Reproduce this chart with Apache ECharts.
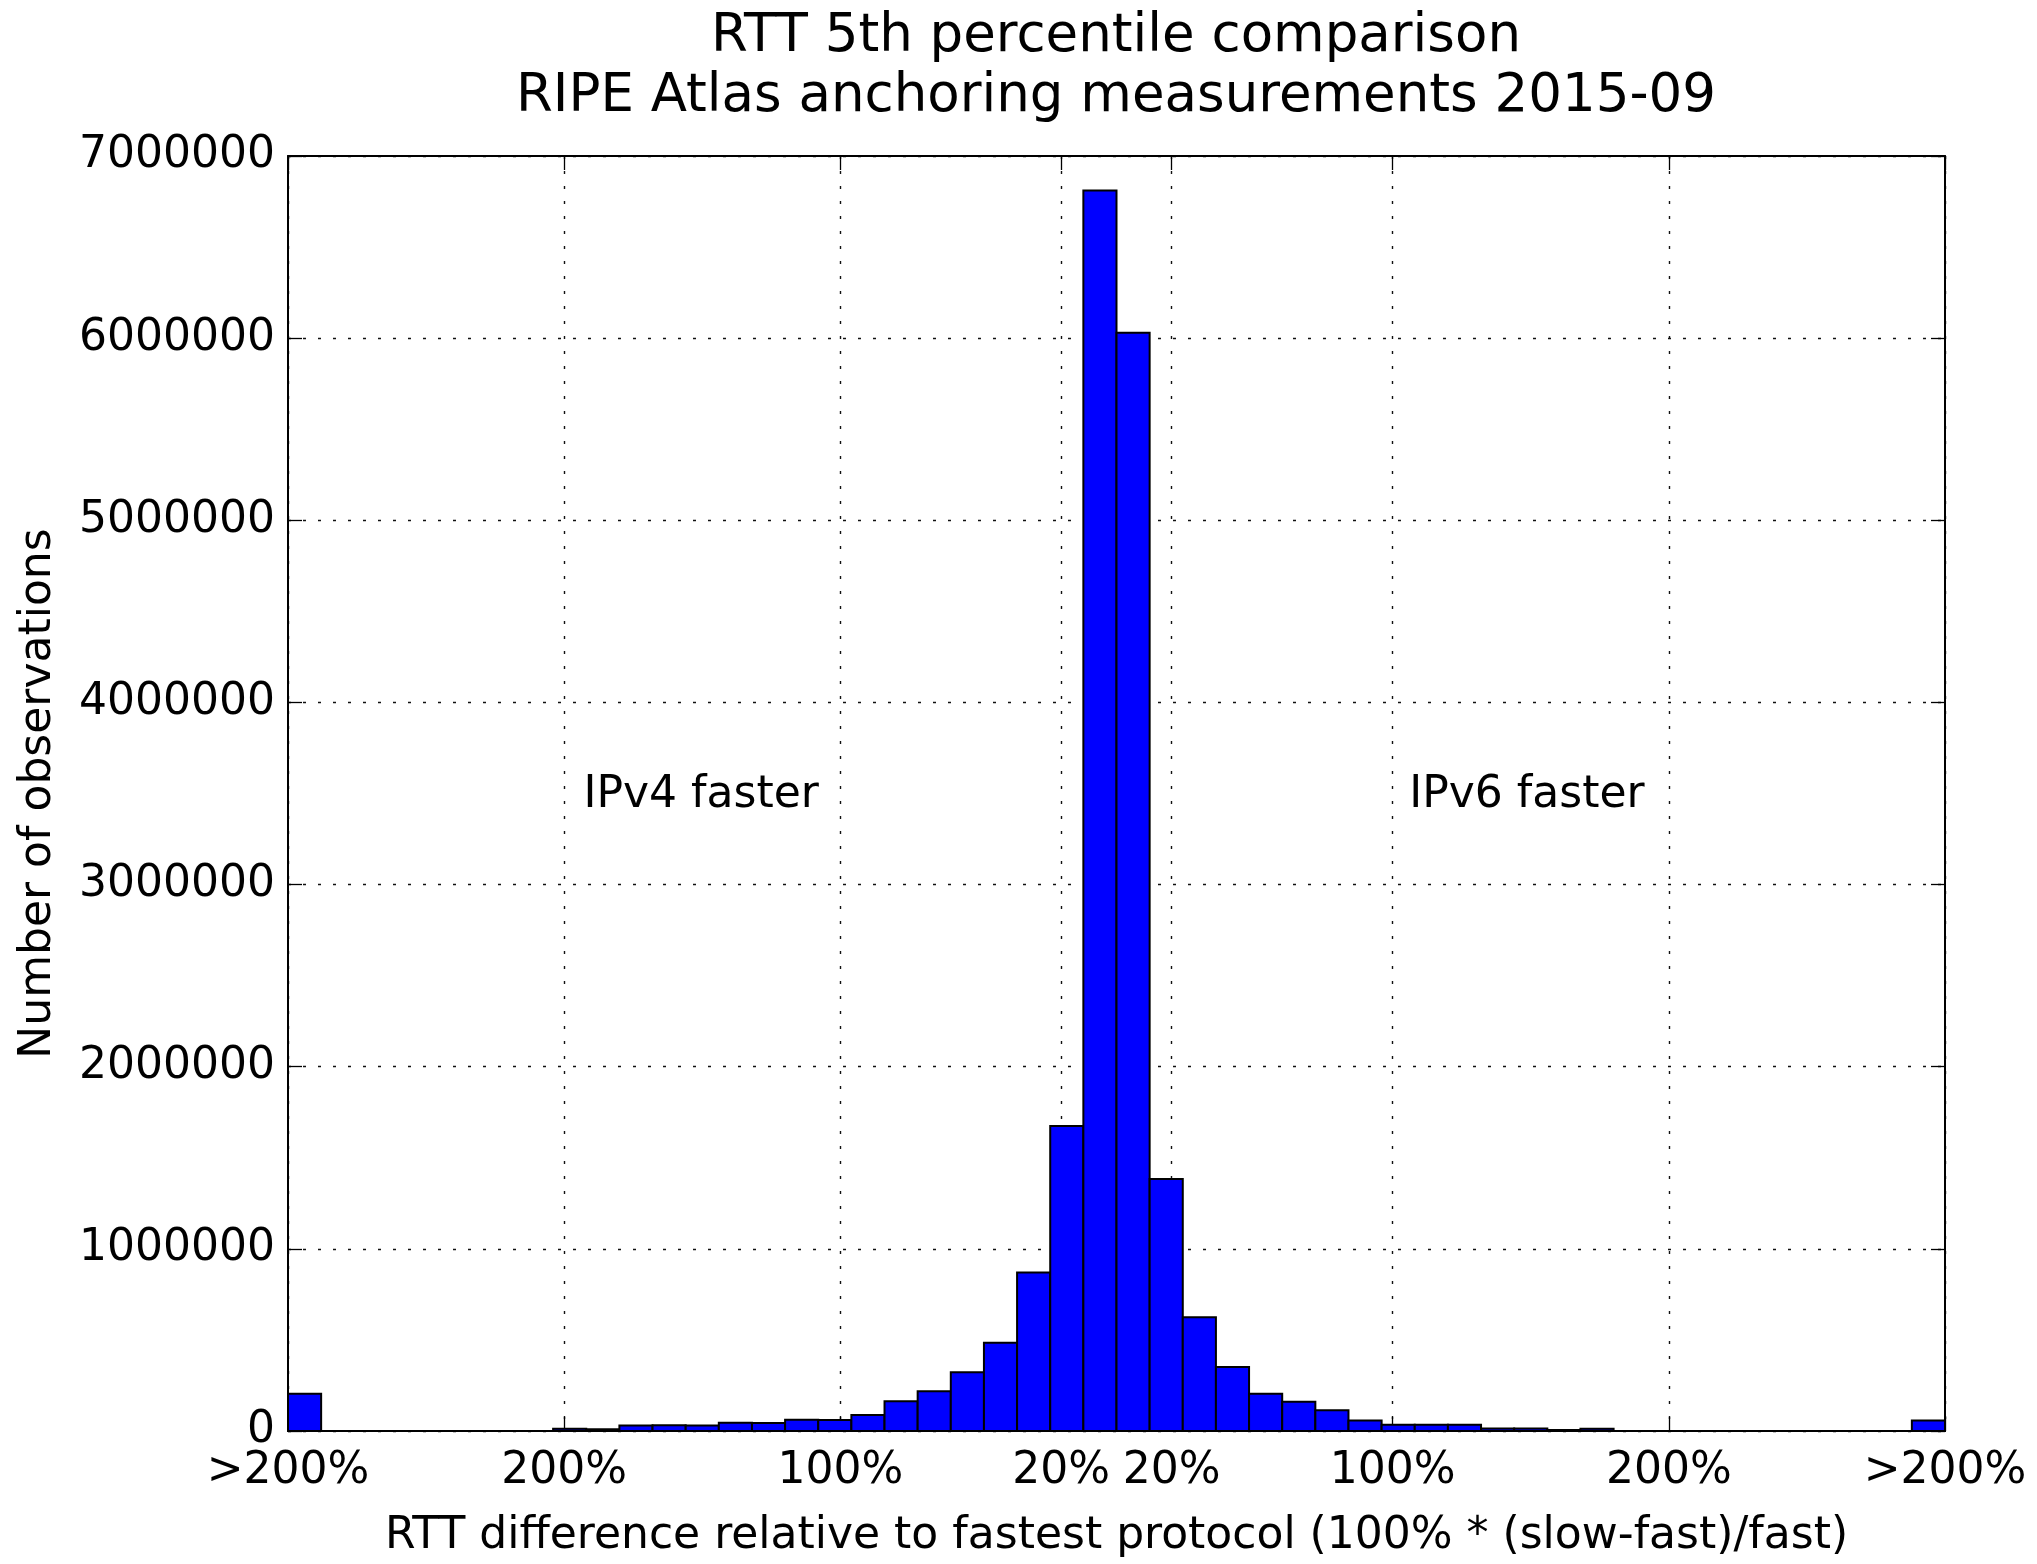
<!DOCTYPE html>
<html>
<head>
<meta charset="utf-8">
<script src="https://cdn.jsdelivr.net/npm/echarts@6/dist/echarts.min.js"></script>
<style>
html, body { margin: 0; padding: 0; background: #fff; }
#chart { width: 2037px; height: 1564px; }
</style>
</head>
<body>
<div id="chart"></div>
<script>
// histogram bins (x = RTT difference in %, negative side = IPv4 faster)
var binEdges = [-300, -288, -276, -264, -252, -240, -228, -216, -204, -192,
    -180, -168, -156, -144, -132, -120, -108, -96, -84, -72,
    -60, -48, -36, -24, -12, 0, 12, 24, 36, 48,
    60, 72, 84, 96, 108, 120, 132, 144, 156, 168,
    180, 192, 204, 216, 228, 240, 252, 264, 276, 288, 300];
var counts = [205000, 0, 0, 0, 0, 0, 0, 0, 12000, 10000,
    30000, 31000, 30000, 45000, 44000, 62000, 60000, 88000, 163000, 218000,
    322000, 484000, 870000, 1675000, 6810000, 6030000, 1383000, 625000, 352000, 205000,
    160000, 114000, 58000, 35000, 35000, 35000, 14000, 14000, 5000, 12000,
    0, 0, 0, 0, 0, 0, 0, 0, 0, 58000];

var tickValues = [-300, -200, -100, -20, 20, 100, 200, 300];
var tickLabels = ['>200%', '200%', '100%', '20%', '20%', '100%', '200%', '>200%'];

var notes = ['IPv4 faster', 'IPv6 faster'];
var notesX = [-193, 106];
var notesY = [3490000, 3490000];

var font = 'DejaVu Sans';

var histData = [];
for (var i = 0; i < counts.length; i++) {
    histData.push([binEdges[i], binEdges[i + 1], counts[i]]);
}
var noteData = [];
for (var j = 0; j < notes.length; j++) {
    noteData.push({ value: [notesX[j], notesY[j]], name: notes[j] });
}

var myChart = echarts.init(document.getElementById('chart'));

var gridDash = { color: '#111', width: 1.4, type: [3, 12] };
var frame = { show: true, onZero: false, lineStyle: { color: '#000', width: 2 } };
var tickIn = { show: true, inside: true, length: 14, lineStyle: { color: '#000', width: 1.3 } };

var option = {
    animation: false,
    backgroundColor: '#fff',
    title: {
        text: 'RTT 5th percentile comparison\nRIPE Atlas anchoring measurements 2015-09',
        left: 1116,
        top: 7,
        padding: 0,
        textAlign: 'center',
        textStyle: {
            fontFamily: font,
            fontSize: 53,
            fontWeight: 'normal',
            color: '#000',
            lineHeight: 60
        }
    },
    grid: {
        left: 288,
        right: 92,
        top: 156,
        bottom: 123,
        containLabel: false
    },
    xAxis: [
        {
            type: 'value',
            position: 'bottom',
            min: -300,
            max: 300,
            name: 'RTT difference relative to fastest protocol (100% * (slow-fast)/fast)',
            nameLocation: 'middle',
            nameGap: 84,
            nameTextStyle: { fontFamily: font, fontSize: 44, color: '#000' },
            axisLine: frame,
            axisTick: { show: true, inside: true, length: 14, customValues: tickValues, lineStyle: { color: '#000', width: 1.3 } },
            axisLabel: {
                customValues: tickValues,
                margin: 19,
                fontFamily: font,
                fontSize: 44,
                color: '#000',
                showMinLabel: true,
                showMaxLabel: true,
                formatter: function (v) {
                    var k = tickValues.indexOf(v);
                    return k >= 0 ? tickLabels[k] : '';
                }
            },
            splitLine: { show: true, lineStyle: gridDash }
        },
        {
            type: 'value',
            position: 'top',
            min: -300,
            max: 300,
            axisLine: frame,
            axisTick: { show: true, inside: true, length: 14, customValues: tickValues, lineStyle: { color: '#000', width: 1.3 } },
            axisLabel: { show: false },
            splitLine: { show: false }
        }
    ],
    yAxis: [
        {
            type: 'value',
            position: 'left',
            min: 0,
            max: 7000000,
            interval: 1000000,
            name: 'Number of observations',
            nameLocation: 'middle',
            nameGap: 227,
            nameTextStyle: { fontFamily: font, fontSize: 44, color: '#000' },
            axisLine: frame,
            axisTick: tickIn,
            axisLabel: {
                margin: 13,
                fontFamily: font,
                fontSize: 44,
                color: '#000',
                formatter: function (v) { return String(v); }
            },
            splitLine: { show: true, lineStyle: gridDash }
        },
        {
            type: 'value',
            position: 'right',
            min: 0,
            max: 7000000,
            interval: 1000000,
            axisLine: frame,
            axisTick: tickIn,
            axisLabel: { show: false },
            splitLine: { show: false }
        }
    ],
    series: [
        {
            type: 'custom',
            xAxisIndex: 0,
            yAxisIndex: 0,
            encode: { x: [0, 1], y: 2 },
            data: histData,
            renderItem: function (params, api) {
                var p0 = api.coord([api.value(0), api.value(2)]);
                var p1 = api.coord([api.value(1), 0]);
                return {
                    type: 'rect',
                    shape: { x: p0[0], y: p0[1], width: p1[0] - p0[0], height: p1[1] - p0[1] },
                    style: { fill: '#0000ff', stroke: '#000', lineWidth: 2 }
                };
            }
        },
        {
            type: 'scatter',
            xAxisIndex: 0,
            yAxisIndex: 0,
            symbolSize: 0,
            data: noteData,
            silent: true,
            itemStyle: { opacity: 1 },
            label: {
                show: true,
                position: 'right',
                distance: 0,
                fontFamily: font,
                fontSize: 44,
                color: '#000',
                opacity: 1,
                formatter: '{b}'
            }
        }
    ]
};

if (option && typeof option === 'object') {
    myChart.setOption(option, true);
}
</script>
</body>
</html>
